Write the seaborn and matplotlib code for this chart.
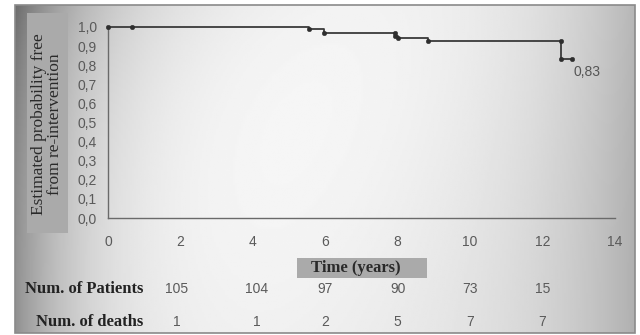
import numpy as np
import seaborn as sns
import matplotlib.pyplot as plt
from matplotlib.patches import Rectangle
from matplotlib.ticker import FuncFormatter
from matplotlib.transforms import blended_transform_factory

# Kaplan-Meier step curve
step_t = [0, 5.55, 5.97, 7.92, 8.0, 8.83, 12.5, 12.8]
step_s = [1.0, 0.99, 0.968, 0.955, 0.94, 0.928, 0.83, 0.83]

# event / censor marks
mark_t = [0, 0.65, 5.55, 5.97, 7.92, 7.92, 8.0, 8.83, 12.5, 12.5, 12.8]
mark_s = [1.0, 1.0, 0.99, 0.968, 0.968, 0.955, 0.94, 0.928, 0.928, 0.83, 0.83]

# numbers at risk table
table_x = [1.9, 4.1, 6.0, 8.0, 10.0, 12.0]
patients = [105, 104, 97, 90, 73, 15]
deaths = [1, 1, 2, 5, 7, 7]

sns.set_style("white")
plt.rcParams['font.family'] = ['Liberation Sans', 'DejaVu Sans']

W, H = 640, 335
fig = plt.figure(figsize=(6.4, 3.35), dpi=100)

# gradient background inside the frame
bg = fig.add_axes([15 / W, 1 - 333 / H, 620 / W, 328 / H], zorder=0)
xx = np.linspace(0, 1, 300)
yy = np.linspace(0, 1, 150)
gx, gy = np.meshgrid(xx, yy)
shade = 0.97 - 0.42 * np.exp(-gx / 0.12) - 0.25 * np.exp(-(1 - gx) / 0.18)
shade -= 0.12 * np.exp(-(gx + gy) / 0.35)
shade += 0.03 * np.sin(gx * 3 + gy * 2)
shade = np.clip(shade, 0, 1)
bg.imshow(shade, cmap='gray', vmin=0, vmax=1, aspect='auto', extent=[0, 1, 0, 1])
bg.set_axis_off()
fig.patches.append(Rectangle((15 / W, 1 - 333 / H), 620 / W, 328 / H,
                             transform=fig.transFigure, fill=False,
                             edgecolor='#8a8a8a', lw=1.2, zorder=5))

ax = fig.add_axes([108 / W, 1 - 218 / H, 507 / W, 191 / H], zorder=2)
ax.patch.set_alpha(0)

sns.lineplot(x=step_t, y=step_s, drawstyle='steps-post', estimator=None,
             color='#3a3a3a', lw=1.3, ax=ax, clip_on=False)
sns.scatterplot(x=mark_t, y=mark_s, s=11, color='#2e2e2e', edgecolor='#2e2e2e',
                ax=ax, clip_on=False, zorder=3)
ax.text(12.85, 0.80, '0,83', fontsize=10, color='#555555', va='top', ha='left')

ax.set_xlim(0, 14)
ax.set_ylim(0, 1.0)
ax.set_xticks(range(0, 15, 2))
ax.set_yticks(np.arange(0, 1.01, 0.1))
ax.yaxis.set_major_formatter(FuncFormatter(lambda v, p: f"{v:.1f}".replace('.', ',')))
ax.tick_params(direction='in', length=3, width=0.8, color='#777777',
               labelcolor='#5a5a5a', labelsize=10)
ax.tick_params(axis='x', pad=12)
ax.tick_params(axis='y', pad=8)
for side in ['top', 'right']:
    ax.spines[side].set_visible(False)
for side in ['left', 'bottom']:
    ax.spines[side].set_color('#6a6a6a')
    ax.spines[side].set_linewidth(1.0)

# y label in grey box
fig.patches.append(Rectangle((27 / W, 1 - 233 / H), 41 / W, 220 / H,
                             transform=fig.transFigure, facecolor='#aaaaaa',
                             edgecolor='none', zorder=1))
fig.text(47.5 / W, 1 - 124 / H, 'Estimated probability free\nfrom re-intervention',
         rotation=90, ha='center', va='center', fontsize=12.5, color='#2a2a2a',
         family='Liberation Serif', linespacing=1.0, zorder=3)

# x label in grey box
fig.patches.append(Rectangle((297 / W, 1 - 278 / H), 130 / W, 20 / H,
                             transform=fig.transFigure, facecolor='#aaaaaa',
                             edgecolor='none', zorder=1))
fig.text(356 / W, 1 - 268 / H, 'Time (years)', ha='center', va='center',
         fontsize=12, color='#2a2a2a', family='Liberation Serif',
         weight='bold', zorder=3)

# numbers at risk
tr = blended_transform_factory(ax.transData, fig.transFigure)
fig.text(143 / W, 1 - 289 / H, 'Num. of Patients', ha='right', va='center',
         fontsize=12, family='Liberation Serif', weight='bold', color='#222222')
fig.text(143 / W, 1 - 322 / H, 'Num. of deaths', ha='right', va='center',
         fontsize=12, family='Liberation Serif', weight='bold', color='#222222')
for x, p, d in zip(table_x, patients, deaths):
    ax.text(x, 1 - 289 / H, str(p), transform=tr, ha='center', va='center',
            fontsize=10, color='#5a5a5a')
    ax.text(x, 1 - 322 / H, str(d), transform=tr, ha='center', va='center',
            fontsize=10, color='#5a5a5a')

fig.savefig('out.png', dpi=100)
